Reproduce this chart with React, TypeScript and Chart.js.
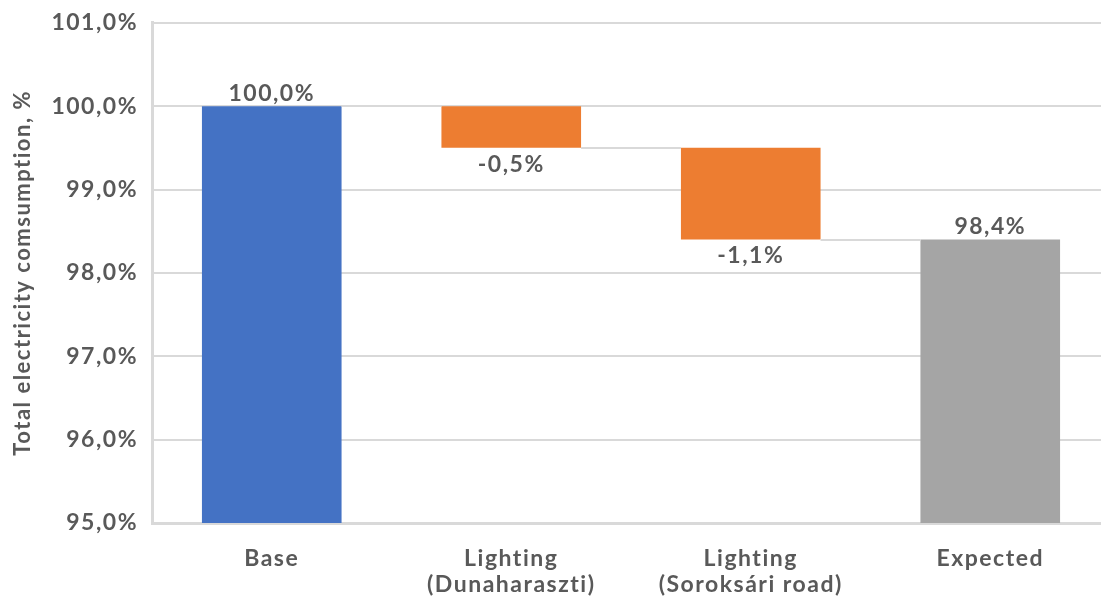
import React, { useEffect, useRef } from "react";
import { Chart, registerables } from "chart.js";

Chart.register(...registerables);

const categories: string[][] = [
  ["Base"],
  ["Lighting", "(Dunaharaszti)"],
  ["Lighting", "(Soroksári road)"],
  ["Expected"],
];
// base value, changes, expected total (percent)
const stepValues: number[] = [100.0, -0.5, -1.1, 98.4];
const stepKinds: string[] = ["total", "delta", "delta", "total"];
const barColors: string[] = ["#4472C4", "#ED7D31", "#ED7D31", "#A5A5A5"];
const axisMin = 95;
const axisMax = 101;
const axisStep = 1;
const yTitle = "Total electricity comsumption, %";

const FONT = "Lato, 'DejaVu Sans', sans-serif";
const TEXT = "#595959";
const GRID = "#d9d9d9";
const SPACING = "1.5px";

function fmt(v: number): string {
  return v.toFixed(1).replace(".", ",") + "%";
}

function buildRanges(): [number, number][] {
  const out: [number, number][] = [];
  let running = 0;
  stepValues.forEach((v, i) => {
    if (stepKinds[i] === "total") {
      running = v;
      out.push([axisMin, v]);
    } else {
      const next = running + v;
      out.push([Math.min(next, running), Math.max(next, running)]);
      running = next;
    }
  });
  return out;
}

export default function App() {
  const ref = useRef<HTMLCanvasElement | null>(null);
  useEffect(() => {
    if (!ref.current) return;
    const ranges = buildRanges();
    const levels: number[] = [];
    {
      let running = 0;
      stepValues.forEach((v, i) => {
        running = stepKinds[i] === "total" ? v : running + v;
        levels.push(running);
      });
    }
    const overlay = {
      id: "wfOverlay",
      beforeLayout(chart: any) {
        (chart.ctx as any).letterSpacing = SPACING;
      },
      beforeDraw(chart: any) {
        (chart.ctx as any).letterSpacing = SPACING;
      },
      afterDatasetsDraw(chart: any) {
        const ctx = chart.ctx;
        const meta = chart.getDatasetMeta(0);
        const y = chart.scales.y;
        ctx.save();
        // connectors
        ctx.strokeStyle = GRID;
        ctx.lineWidth = 2;
        for (let i = 0; i < meta.data.length - 1; i++) {
          const a = meta.data[i];
          const b = meta.data[i + 1];
          const py = Math.round(y.getPixelForValue(levels[i]));
          ctx.beginPath();
          ctx.moveTo(a.x + a.width / 2, py);
          ctx.lineTo(b.x - b.width / 2, py);
          ctx.stroke();
        }
        // labels
        ctx.fillStyle = TEXT;
        ctx.font = `bold 23px ${FONT}`;
        (ctx as any).letterSpacing = SPACING;
        ctx.textAlign = "center";
        meta.data.forEach((el: any, i: number) => {
          const label = fmt(stepValues[i]);
          if (stepKinds[i] === "total") {
            ctx.textBaseline = "bottom";
            ctx.fillText(label, el.x, y.getPixelForValue(ranges[i][1]) - 1);
          } else {
            ctx.textBaseline = "top";
            ctx.fillText(label, el.x, y.getPixelForValue(ranges[i][0]) + 5);
          }
        });
        // y axis title
        ctx.font = `bold 22px ${FONT}`;
        ctx.textBaseline = "middle";
        ctx.translate(23, (chart.chartArea.top + chart.chartArea.bottom) / 2);
        ctx.rotate(-Math.PI / 2);
        ctx.fillText(yTitle, 0, 0);
        ctx.restore();
      },
    };
    const chart = new Chart(ref.current, {
      type: "bar",
      data: {
        labels: categories,
        datasets: [
          {
            data: ranges as any,
            backgroundColor: barColors,
            borderWidth: 0,
            barPercentage: 0.583,
            categoryPercentage: 1,
          },
        ],
      },
      options: {
        animation: false,
        responsive: false,
        layout: { padding: { top: 18, left: 0, right: 0, bottom: 0 } },
        plugins: {
          legend: { display: false },
          tooltip: { enabled: false },
        },
        scales: {
          x: {
            grid: { display: false },
            border: { display: true, color: GRID, width: 3 },
            ticks: {
              color: TEXT,
              font: { family: FONT, size: 23, weight: "bold", lineHeight: 1.15 },
              padding: 14,
              maxRotation: 0,
              autoSkip: false,
            },
            afterFit(scale: any) {
              scale.height = 75;
            },
          },
          y: {
            min: axisMin,
            max: axisMax,
            grid: { color: GRID, lineWidth: 2, drawTicks: false },
            border: { display: true, color: GRID, width: 3 },
            ticks: {
              stepSize: axisStep,
              color: TEXT,
              font: { family: FONT, size: 23, weight: "bold" },
              padding: 14,
              callback: (v: any) => fmt(Number(v)),
            },
            title: { display: false },
            afterFit(scale: any) {
              scale.width = 152;
            },
          },
        },
      },
      plugins: [overlay],
    });
    return () => chart.destroy();
  }, []);
  return (
    <div
      style={{
        position: "fixed",
        left: 0,
        top: 0,
        width: 1101,
        height: 598,
        overflow: "hidden",
        background: "#fff",
      }}
    >
      <canvas
        ref={ref}
        width={1110}
        height={603}
        style={{ display: "block", position: "relative", top: -5, width: 1110, height: 603 }}
      />
    </div>
  );
}
